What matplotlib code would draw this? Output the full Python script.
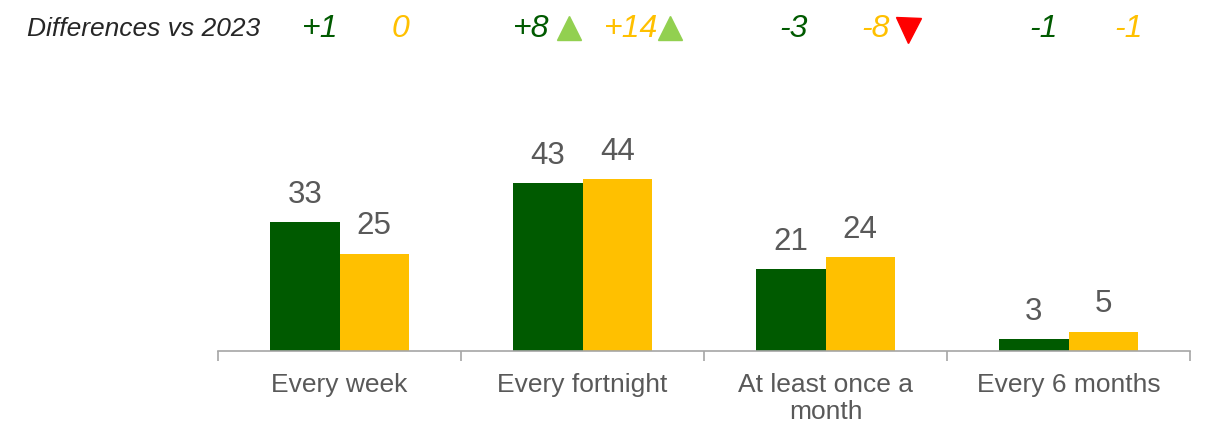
import matplotlib
matplotlib.use("Agg")
import matplotlib.pyplot as plt
from matplotlib.transforms import blended_transform_factory
import numpy as np

plt.rcParams['font.family'] = ['Liberation Sans', 'DejaVu Sans']

# Data
categories = ["Every week", "Every fortnight", "At least once a\nmonth", "Every 6 months"]
series_a = [33, 43, 21, 3]     # green series
series_b = [25, 44, 24, 5]     # yellow series
diff_a = ["+1", "+8", "-3", "-1"]
diff_b = ["0", "+14", "-8", "-1"]
# significance markers: (series, category) -> direction
sig_marks = {("a", 1): "up", ("b", 1): "up", ("b", 2): "down"}

# Styles
GREEN = "#005A00"
YELLOW = "#FFC000"
LABEL_GRAY = "#595959"
AXIS_GRAY = "#A6A6A6"
UP_GREEN = "#92D050"
DOWN_RED = "#FF0000"

fig = plt.figure(figsize=(12.09, 4.24), dpi=100)
ax = fig.add_axes([218 / 1209, 73 / 424, 972 / 1209, 195 / 424])

x = np.arange(len(categories))
w = 0.286
ax.bar(x - w / 2, series_a, width=w, color=GREEN, zorder=2)
ax.bar(x + w / 2, series_b, width=w, color=YELLOW, zorder=2)

ax.set_xlim(-0.5, len(categories) - 0.5)
ax.set_ylim(0, 50)

# value labels above bars
for xi, v in zip(x - w / 2, series_a):
    ax.annotate(str(v), (xi, v), xytext=(0, 19), textcoords="offset pixels",
                ha="center", va="baseline", fontsize=22.5, color=LABEL_GRAY)
for xi, v in zip(x + w / 2, series_b):
    ax.annotate(str(v), (xi, v), xytext=(0, 19), textcoords="offset pixels",
                ha="center", va="baseline", fontsize=22.5, color=LABEL_GRAY)

# axes styling
for s in ("top", "right", "left"):
    ax.spines[s].set_visible(False)
ax.spines["bottom"].set_color(AXIS_GRAY)
ax.spines["bottom"].set_linewidth(1.2)
ax.set_yticks([])
ax.set_xticks(x)
ax.set_xticklabels(categories, fontsize=19, color=LABEL_GRAY, linespacing=1.17)
ax.tick_params(axis="x", which="major", length=0, pad=16)
ax.set_xticks(np.arange(-0.5, len(categories)), minor=True)
ax.tick_params(axis="x", which="minor", length=7, width=1.2, color=AXIS_GRAY, direction="out")

# differences row
tr = blended_transform_factory(ax.transData, fig.transFigure)
fig.text(27 / 1209, 1 - 36 / 424, "Differences vs 2023", fontsize=19, style="italic",
         color="#262626", ha="left", va="baseline")

text_offsets_a = [15, -17, 3, 10]     # pixel nudges from bar centre
text_offsets_b = [26, 14, 15, 25]
marker_offsets = {("a", 1): 21, ("b", 1): 53, ("b", 2): 48}
y_text = 1 - 37 / 424
y_mark = 1 - 28 / 424

for i in range(len(categories)):
    ax.annotate(diff_a[i], (x[i] - w / 2, y_text), xycoords=tr,
                xytext=(text_offsets_a[i], 0), textcoords="offset pixels",
                ha="center", va="baseline", fontsize=23, style="italic",
                color=GREEN, annotation_clip=False)
    ax.annotate(diff_b[i], (x[i] + w / 2, y_text), xycoords=tr,
                xytext=(text_offsets_b[i], 0), textcoords="offset pixels",
                ha="center", va="baseline", fontsize=23, style="italic",
                color=YELLOW, annotation_clip=False)

for (ser, ci), direction in sig_marks.items():
    base_x = x[ci] - w / 2 if ser == "a" else x[ci] + w / 2
    off = marker_offsets[(ser, ci)]
    dx_data = off / (972 / len(categories))
    if direction == "up":
        ax.plot([base_x + dx_data], [y_mark], marker="^", ms=17, color=UP_GREEN,
                transform=tr, clip_on=False, linestyle="none")
    else:
        ax.plot([base_x + dx_data], [1 - 30 / 424], marker="v", ms=18, color=DOWN_RED,
                transform=tr, clip_on=False, linestyle="none")

fig.savefig("out.png", dpi=100)
